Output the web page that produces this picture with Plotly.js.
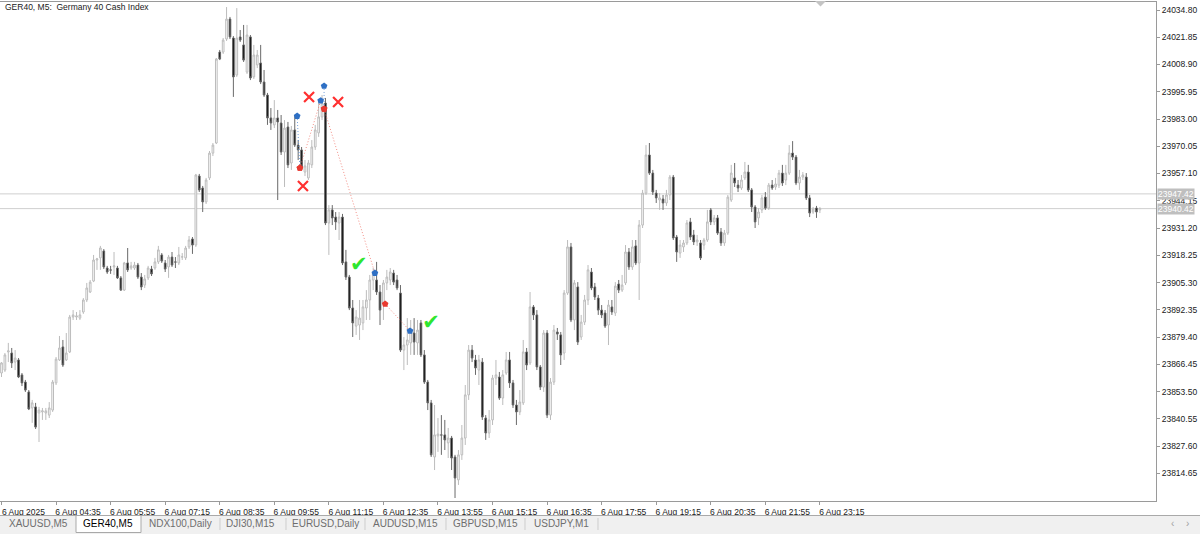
<!DOCTYPE html>
<html>
<head>
<meta charset="utf-8">
<script src="https://cdn.plot.ly/plotly-3.0.1.min.js"></script>
<style>
html,body{margin:0;padding:0;background:#fff;}
#chart{width:1200px;height:534px;}
</style>
</head>
<body>
<div id="chart"></div>
<script>
// ---- DATA (GER40, M5, 6 Aug 2025, bars from 03:15) ----
const symbolTitle = "GER40, M5:  Germany 40 Cash Index";

const openP = [
23862.3,23863.7,23872.3,23871.8,23867.5,23868.5,23861.4,23858.0,23853.3,23845.7,
23846.2,23843.3,23843.8,23843.3,23842.3,23844.7,23857.6,23868.5,23874.7,23868.5,
23872.3,23888.9,23888.9,23888.4,23891.3,23897.0,23900.8,23906.0,23916.0,23917.0,
23920.3,23912.2,23911.3,23912.7,23912.2,23907.5,23901.7,23914.6,23912.2,23912.2,
23913.6,23907.9,23904.1,23907.5,23911.7,23912.2,23915.1,23918.4,23914.6,23912.7,
23917.4,23915.1,23914.6,23917.4,23917.0,23922.2,23926.0,23923.1,23955.9,23950.2,
23943.6,23955.0,23966.8,23971.6,24014.8,24014.8,24021.0,24030.5,24021.5,24003.9,
24022.0,24018.2,24005.3,24022.0,24003.0,24008.7,24009.6,24000.6,23994.4,23983.5,
23980.2,23983.5,23981.1,23967.3,23979.2,23962.1,23977.8,23970.6,23968.3,23957.8,
23955.0,23961.2,23969.7,23976.4,23984.0,23990.6,23933.6,23939.8,23936.4,23933.6,
23936.4,23915.1,23907.9,23893.2,23884.6,23885.1,23886.1,23893.2,23897.0,23906.5,
23906.5,23900.8,23895.6,23905.1,23906.5,23909.8,23906.5,23900.3,23873.2,23875.6,
23876.6,23881.3,23876.6,23886.1,23870.9,23858.0,23848.1,23822.4,23832.4,23832.9,
23832.9,23829.1,23831.4,23822.4,23811.5,23823.4,23831.4,23851.9,23873.2,23868.5,
23863.7,23867.5,23840.9,23833.8,23840.0,23859.9,23860.4,23850.4,23862.3,23868.5,
23857.6,23847.1,23843.8,23848.1,23872.3,23867.1,23893.7,23889.9,23865.2,23855.6,
23881.3,23842.3,23858.0,23881.8,23880.4,23871.8,23900.3,23922.2,23887.5,23903.2,
23879.4,23886.5,23897.0,23910.3,23903.2,23897.9,23892.2,23890.8,23885.1,23893.7,
23890.8,23904.6,23901.7,23905.1,23919.8,23912.7,23922.7,23914.6,23932.6,23947.8,
23965.9,23957.3,23947.8,23944.5,23945.0,23943.1,23946.9,23955.4,23926.9,23919.3,
23922.2,23924.1,23934.1,23927.9,23924.6,23924.1,23923.1,23925.5,23939.8,23934.1,
23936.0,23929.3,23924.1,23928.8,23944.5,23955.0,23951.6,23950.2,23955.0,23957.8,
23949.3,23941.2,23936.0,23939.8,23945.9,23940.7,23951.6,23950.7,23951.6,23957.3,
23954.0,23957.3,23966.8,23964.9,23952.6,23955.4,23955.4,23945.5,23938.8,23940.7,
23939.8];

const highP = [
23867.5,23871.8,23876.6,23874.2,23873.2,23869.4,23862.3,23859.0,23854.2,23849.5,
23848.1,23846.2,23845.7,23845.7,23848.5,23859.0,23869.9,23879.9,23878.0,23881.3,
23889.9,23892.2,23891.3,23892.2,23897.9,23905.1,23906.5,23918.4,23917.0,23922.7,
23921.2,23913.2,23913.2,23919.8,23913.2,23908.4,23915.1,23921.7,23915.1,23915.1,
23914.6,23909.8,23908.9,23913.2,23913.2,23917.0,23922.7,23919.3,23916.0,23918.4,
23919.8,23917.4,23922.2,23919.3,23922.7,23927.4,23926.9,23956.9,23956.9,23951.2,
23955.0,23967.8,23971.6,24012.0,24015.8,24021.5,24036.2,24031.5,24022.4,24035.7,
24025.3,24027.7,24027.7,24022.9,24018.2,24015.8,24018.2,24006.3,23995.4,23988.2,
23992.0,23987.3,23984.9,23982.5,23981.6,23979.7,23984.9,23973.0,23969.7,23963.5,
23963.5,23973.0,23980.2,23992.0,23994.4,23993.0,23942.1,23942.1,23938.8,23938.8,
23937.9,23920.8,23908.9,23897.0,23892.2,23897.0,23897.0,23901.7,23908.9,23912.2,
23915.1,23904.1,23906.5,23911.3,23912.2,23911.3,23908.9,23904.1,23879.4,23888.4,
23887.5,23888.4,23887.5,23887.5,23873.2,23859.0,23849.5,23847.1,23840.9,23842.3,
23840.0,23836.2,23832.4,23823.4,23825.7,23837.6,23856.6,23875.6,23875.6,23870.9,
23870.9,23869.4,23842.3,23844.7,23861.4,23868.5,23862.8,23863.7,23872.3,23872.3,
23859.0,23849.5,23854.2,23878.0,23874.2,23900.8,23894.6,23892.2,23866.1,23882.7,
23882.7,23859.9,23885.1,23883.7,23881.8,23901.7,23925.5,23924.1,23906.5,23905.5,
23889.9,23899.4,23913.6,23912.2,23905.1,23899.4,23894.6,23892.2,23897.0,23897.0,
23905.5,23906.5,23908.9,23923.1,23921.7,23925.5,23925.5,23935.0,23949.3,23970.6,
23971.6,23958.8,23949.3,23947.8,23946.9,23949.3,23956.4,23956.4,23927.9,23925.5,
23925.5,23935.0,23936.0,23930.3,23927.9,23925.5,23926.5,23939.8,23940.7,23937.4,
23937.4,23931.2,23930.3,23946.9,23961.2,23962.1,23954.0,23956.4,23962.6,23961.2,
23950.2,23942.1,23940.7,23946.9,23948.3,23952.6,23954.0,23955.0,23958.8,23961.2,
23961.2,23970.6,23972.5,23965.9,23958.8,23957.8,23957.3,23946.9,23941.2,23941.7,
23941.2];

const lowP = [
23860.4,23862.8,23867.5,23864.7,23863.7,23859.9,23856.1,23853.3,23844.7,23838.6,
23835.7,23829.5,23840.0,23840.0,23840.9,23843.8,23856.6,23868.0,23865.2,23868.0,
23871.8,23887.5,23887.5,23887.5,23890.4,23896.0,23900.3,23905.5,23911.3,23911.3,
23911.7,23909.4,23909.4,23908.9,23907.0,23901.3,23901.3,23910.3,23911.3,23911.3,
23907.0,23901.7,23902.7,23906.5,23908.4,23911.3,23914.1,23914.6,23910.3,23907.5,
23912.7,23912.2,23913.6,23916.0,23916.0,23921.2,23918.9,23922.2,23948.3,23938.8,
23942.6,23954.0,23965.4,23971.1,24011.0,24013.9,24020.1,24021.0,23993.5,24003.0,
24019.6,24010.1,24004.4,24001.5,24002.0,24007.2,23999.6,23993.5,23980.2,23977.8,
23978.7,23944.5,23965.9,23950.7,23959.7,23958.8,23969.7,23963.5,23958.8,23955.9,
23954.0,23959.7,23968.3,23974.5,23982.5,23932.6,23918.4,23932.6,23930.3,23925.5,
23913.6,23906.5,23892.2,23879.4,23880.4,23878.0,23882.7,23887.5,23887.5,23901.7,
23899.4,23885.1,23887.5,23901.7,23904.1,23904.1,23901.7,23872.3,23863.7,23866.1,
23870.9,23870.9,23870.9,23869.9,23857.1,23844.7,23822.4,23816.2,23824.8,23823.4,
23825.7,23821.9,23816.2,23802.9,23809.1,23821.0,23828.1,23849.5,23867.5,23861.4,
23856.6,23840.0,23830.5,23831.4,23837.6,23856.6,23849.5,23847.1,23861.4,23855.2,
23845.7,23837.6,23842.3,23847.1,23863.7,23866.1,23887.5,23863.7,23854.2,23853.3,
23840.9,23840.0,23856.6,23878.0,23866.1,23868.5,23899.4,23886.5,23882.7,23875.6,
23878.0,23885.1,23894.6,23901.7,23897.0,23889.9,23888.4,23883.7,23875.6,23889.9,
23889.4,23900.3,23900.8,23904.1,23911.3,23911.3,23913.6,23897.0,23931.2,23946.9,
23956.4,23946.9,23943.1,23939.8,23939.8,23941.7,23944.5,23925.5,23915.1,23917.0,
23919.8,23923.1,23925.5,23923.1,23922.7,23916.0,23920.8,23924.6,23932.6,23932.6,
23927.9,23922.7,23922.7,23927.9,23943.6,23950.7,23948.3,23949.3,23954.0,23948.3,
23938.8,23931.2,23932.6,23938.3,23939.8,23939.8,23949.3,23949.3,23950.2,23951.2,
23951.6,23956.4,23963.5,23951.6,23949.3,23954.0,23944.5,23936.4,23937.9,23936.0,
23938.3];

const closeP = [
23867.1,23870.9,23872.8,23867.1,23869.4,23860.4,23857.6,23854.2,23845.2,23848.1,
23836.6,23844.7,23844.3,23844.3,23845.7,23858.0,23868.9,23874.2,23866.1,23871.8,
23888.9,23889.9,23889.4,23889.9,23897.0,23902.7,23905.5,23916.0,23916.5,23921.7,
23912.7,23910.3,23911.2,23913.2,23907.5,23901.7,23914.6,23911.3,23913.2,23913.6,
23907.9,23903.2,23907.0,23912.2,23909.4,23915.1,23920.8,23915.5,23911.7,23917.4,
23913.6,23915.0,23918.4,23917.5,23921.7,23925.5,23923.1,23956.4,23949.3,23943.6,
23954.0,23966.8,23970.6,24011.5,24011.5,24020.5,24030.5,24022.0,24003.0,24021.5,
24020.5,24011.0,24022.9,24002.5,24013.4,24013.4,24000.6,23994.4,23983.5,23981.1,
23983.5,23981.6,23967.3,23978.7,23961.2,23977.8,23970.6,23968.3,23960.2,23960.7,
23962.1,23969.7,23977.8,23984.0,23990.6,23933.6,23939.8,23936.0,23934.1,23936.4,
23914.6,23907.9,23893.2,23886.1,23888.9,23888.4,23893.7,23897.0,23906.5,23909.8,
23900.8,23892.2,23905.1,23907.9,23910.3,23905.5,23902.7,23873.2,23875.6,23878.0,
23881.8,23877.0,23882.7,23870.9,23858.0,23848.1,23823.4,23832.9,23833.3,23832.8,
23830.5,23831.4,23821.9,23812.4,23823.4,23831.4,23851.9,23873.2,23869.4,23864.7,
23868.5,23841.4,23833.8,23840.0,23859.9,23861.4,23850.4,23861.4,23868.5,23857.6,
23847.1,23843.8,23848.5,23872.3,23866.1,23893.7,23889.9,23865.2,23855.6,23881.3,
23842.3,23858.0,23882.7,23880.8,23870.9,23900.3,23922.2,23887.5,23905.1,23877.0,
23886.5,23897.0,23911.3,23902.7,23898.4,23892.2,23889.9,23884.6,23894.6,23891.3,
23903.6,23901.7,23904.1,23919.8,23912.7,23922.2,23914.6,23932.6,23947.8,23965.9,
23957.3,23948.3,23945.5,23945.5,23943.1,23946.9,23955.4,23926.5,23919.8,23923.1,
23924.1,23933.6,23926.9,23924.6,23925.5,23917.0,23925.5,23934.1,23934.1,23936.0,
23928.8,23924.1,23928.8,23945.9,23957.3,23952.6,23950.2,23954.0,23957.8,23949.3,
23941.2,23934.1,23938.8,23945.5,23940.7,23951.6,23950.2,23952.1,23957.3,23952.6,
23957.3,23966.8,23964.9,23952.6,23955.4,23956.4,23945.5,23938.3,23940.2,23938.8,
23940.4];

// time axis labels (every 16 bars = 80 minutes)
const timeTickBars = [0,16,32,48,64,80,96,112,128,144,160,176,192,208,224,240];
const timeTickLabels = ["6 Aug 2025","6 Aug 04:35","6 Aug 05:55","6 Aug 07:15","6 Aug 08:35",
  "6 Aug 09:55","6 Aug 11:15","6 Aug 12:35","6 Aug 13:55","6 Aug 15:15","6 Aug 16:35",
  "6 Aug 17:55","6 Aug 19:15","6 Aug 20:35","6 Aug 21:55","6 Aug 23:15"];

// price axis ticks
const priceTicks = [24034.80,24021.85,24008.90,23995.95,23983.00,23970.05,23957.10,23944.15,
  23931.20,23918.25,23905.30,23892.35,23879.40,23866.45,23853.50,23840.55,23827.60,23814.65];

// Ask / Bid lines
const quoteLines = [23947.42, 23940.42];

// trade history (bar position, price)
const tradeSide       = ["buy","sell","buy","sell","sell"];
const tradeOpenBar    = [86.7, 87.5, 94.6, 94.6, 112.5];
const tradeOpenPrice  = [23984.4, 23959.7, 23998.7, 23987.8, 23895.1];
const tradeCloseBar   = [87.5, 93.6, 94.6, 109.5, 119.8];
const tradeClosePrice = [23959.7, 23991.7, 23987.8, 23909.8, 23882.3];

// result marks
const lossBar   = [90.2, 98.7, 88.4];
const lossPrice = [23993.5, 23991.1, 23951.2];
const winBar    = [104.8, 126.0];
const winPrice  = [23913.2, 23885.6];

// terminal tabs
const tabNames = ["XAUUSD,M5","GER40,M5","NDX100,Daily","DJI30,M15","EURUSD,Daily","AUDUSD,M15","GBPUSD,M15","USDJPY,M1"];
const activeTab = 1;

// ---- LAYOUT HELPERS (pixel -> paper) ----
const PLOT_W = 1156, PLOT_H = 499, PLOT_TOP = 2;
const fx = x => x / PLOT_W;
const fy = y => (PLOT_TOP + PLOT_H - y) / PLOT_H;
const FONT = "Liberation Sans, Arial, sans-serif";
const BLUE = "#2e6fc4", RED = "#e8392f";

const bars = openP.map((_, i) => i);

const traces = [];
traces.push({
  type: "candlestick",
  x: bars, open: openP, high: highP, low: lowP, close: closeP,
  increasing: {line: {color: "#bcbcbc", width: 1}, fillcolor: "#ffffff"},
  decreasing: {line: {color: "#6a6a6a", width: 1}, fillcolor: "#000000"},
  whiskerwidth: 0,
  hoverinfo: "skip",
  showlegend: false
});

// dotted trade lines
tradeSide.forEach((s, k) => {
  traces.push({
    type: "scatter", mode: "lines",
    x: [tradeOpenBar[k], tradeCloseBar[k]],
    y: [tradeOpenPrice[k], tradeClosePrice[k]],
    line: {color: s === "buy" ? "#5b8fd6" : "#f07a70", width: 1, dash: "1px,2px"},
    opacity: 0.85,
    hoverinfo: "skip", showlegend: false
  });
});

// deal arrows: buy deals blue, sell deals red
const blueX = [], blueY = [], redX = [], redY = [];
tradeSide.forEach((s, k) => {
  if (s === "buy") {
    blueX.push(tradeOpenBar[k]); blueY.push(tradeOpenPrice[k]);
    redX.push(tradeCloseBar[k]); redY.push(tradeClosePrice[k]);
  } else {
    redX.push(tradeOpenBar[k]); redY.push(tradeOpenPrice[k]);
    blueX.push(tradeCloseBar[k]); blueY.push(tradeClosePrice[k]);
  }
});
traces.push({type: "scatter", mode: "markers", x: blueX, y: blueY,
  marker: {symbol: "pentagon", size: 7, color: BLUE, line: {width: 0}},
  hoverinfo: "skip", showlegend: false});
traces.push({type: "scatter", mode: "markers", x: redX, y: redY,
  marker: {symbol: "pentagon", size: 7, color: RED, line: {width: 0}},
  hoverinfo: "skip", showlegend: false});

// loss crosses
traces.push({type: "scatter", mode: "markers", x: lossBar, y: lossPrice,
  marker: {symbol: "x-thin", size: 10, color: "#ff3030", line: {width: 2.2, color: "#ff3030"}},
  hoverinfo: "skip", showlegend: false});
// win checks
traces.push({type: "scatter", mode: "text", x: winBar, y: winPrice,
  text: winBar.map(() => "✔"), textposition: "middle center",
  textfont: {family: "DejaVu Sans", size: 21, color: "#2fe62f"},
  hoverinfo: "skip", showlegend: false});

// ---- shapes ----
const shapes = [];
quoteLines.forEach(p => shapes.push({
  type: "line", xref: "paper", yref: "y", x0: 0, x1: 1, y0: p, y1: p,
  line: {color: "#cfcfcf", width: 1}, layer: "below"
}));
// chart-shift triangle
shapes.push({type: "path", xref: "paper", yref: "paper",
  path: `M ${fx(815)},${fy(1)} L ${fx(826)},${fy(1)} L ${fx(820.5)},${fy(6.5)} Z`,
  fillcolor: "#c4c4c4", line: {width: 0}});
// tab bar
shapes.push({type: "rect", xref: "paper", yref: "paper",
  x0: fx(-2), x1: fx(1202), y0: fy(536), y1: fy(515.5),
  fillcolor: "#f0f0f0", line: {width: 0}});
shapes.push({type: "line", xref: "paper", yref: "paper",
  x0: fx(0), x1: fx(1200), y0: fy(515.5), y1: fy(515.5),
  line: {color: "#a9a9a9", width: 1}});
shapes.push({type: "rect", xref: "paper", yref: "paper",
  x0: fx(76), x1: fx(141), y0: fy(532.5), y1: fy(515.5),
  fillcolor: "#ffffff", line: {color: "#a9a9a9", width: 1}});
[220, 286, 365, 446, 525, 598].forEach(xp => shapes.push({
  type: "line", xref: "paper", yref: "paper",
  x0: fx(xp), x1: fx(xp), y0: fy(530), y1: fy(518),
  line: {color: "#cdcdcd", width: 1}}));

// ---- annotations ----
const annotations = [];
annotations.push({xref: "paper", yref: "paper", x: 0, xshift: 3, xanchor: "left",
  y: fy(7), yanchor: "middle", showarrow: false, text: symbolTitle,
  font: {family: FONT, size: 8.5, color: "#1a1a1a"}});
quoteLines.forEach(p => annotations.push({
  xref: "paper", yref: "y", x: 1, xshift: 1, xanchor: "left", y: p, yanchor: "middle",
  showarrow: false, text: p.toFixed(2), bgcolor: "#bfbfbf", borderpad: 0,
  font: {family: FONT, size: 8.5, color: "#ffffff"}
}));
const tabCenters = [38, 108, 180, 250, 325, 405, 485, 561];
tabNames.forEach((t, k) => annotations.push({
  xref: "paper", yref: "paper", x: fx(tabCenters[k]), xanchor: "center",
  y: fy(523.5), yanchor: "middle", showarrow: false, text: t,
  font: {family: FONT, size: 10, color: k === activeTab ? "#000000" : "#6e6e6e"}
}));
["\u2039", "\u203A"].forEach((t, k) => annotations.push({
  xref: "paper", yref: "paper", x: fx(1172 + 15 * k), xanchor: "center",
  y: fy(523), yanchor: "middle", showarrow: false, text: t,
  font: {family: FONT, size: 10, color: "#a0a0a0"}
}));

const layout = {
  width: 1200, height: 534,
  margin: {l: 0, r: 1200 - PLOT_W, t: PLOT_TOP, b: 534 - PLOT_TOP - PLOT_H, pad: 0},
  paper_bgcolor: "#ffffff", plot_bgcolor: "#ffffff",
  showlegend: false,
  font: {family: FONT, size: 8.5, color: "#1a1a1a"},
  xaxis: {
    type: "linear", range: [-0.44, (PLOT_W / 3.41) - 0.44],
    tickvals: timeTickBars, ticktext: timeTickLabels,
    ticks: "outside", ticklen: 3, tickcolor: "#9a9a9a",
    ticklabelshift: 22, ticklabelstandoff: 0,
    tickfont: {family: FONT, size: 8.5, color: "#1a1a1a"},
    showline: true, mirror: true, linecolor: "#9a9a9a", linewidth: 1,
    showgrid: false, zeroline: false, fixedrange: true,
    rangeslider: {visible: false}
  },
  yaxis: {
    side: "right", range: [23801.48, 24038.60],
    tickvals: priceTicks, ticktext: priceTicks.map(v => v.toFixed(2)),
    ticks: "outside", ticklen: 3, tickcolor: "#9a9a9a",
    tickfont: {family: FONT, size: 8.5, color: "#1a1a1a"},
    showline: true, mirror: true, linecolor: "#9a9a9a", linewidth: 1,
    showgrid: false, zeroline: false, fixedrange: true
  },
  shapes: shapes,
  annotations: annotations
};

Plotly.newPlot("chart", traces, layout, {staticPlot: true, displayModeBar: false});
</script>
</body>
</html>
